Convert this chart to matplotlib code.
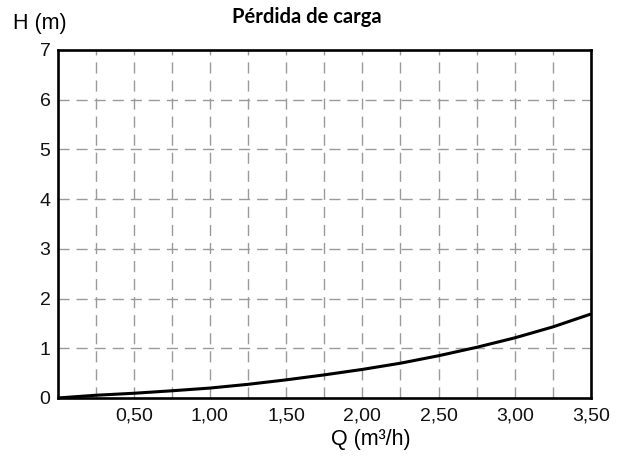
import matplotlib
matplotlib.use("Agg")
import matplotlib.pyplot as plt
import numpy as np

# Data
Q = [0, 0.25, 0.5, 0.75, 1.0, 1.25, 1.5, 1.75, 2.0, 2.25, 2.5, 2.75, 3.0, 3.25, 3.5]
H = [0, 0.055, 0.095, 0.145, 0.20, 0.275, 0.365, 0.465, 0.575, 0.70, 0.85, 1.02, 1.21, 1.43, 1.69]
x_ticks = [0.5, 1.0, 1.5, 2.0, 2.5, 3.0, 3.5]
x_tick_labels = ["0,50", "1,00", "1,50", "2,00", "2,50", "3,00", "3,50"]
y_ticks = [0, 1, 2, 3, 4, 5, 6, 7]
x_grid = [0.25 * i for i in range(1, 14)]
y_grid = [1, 2, 3, 4, 5, 6]

plt.rcParams['font.family'] = ['Liberation Sans', 'DejaVu Sans']

fig = plt.figure(figsize=(6.26, 4.63), dpi=100)
ax = fig.add_axes([57.5 / 626, 1 - 398 / 463, (591 - 57.5) / 626, (398 - 50) / 463])

grid_kw = dict(color='#9a9a9a', lw=1.0, dashes=(8, 5), zorder=1)
for gx in x_grid:
    ax.axvline(gx, **grid_kw)
for gy in y_grid:
    ax.axhline(gy, **grid_kw)

ax.plot(Q, H, color='black', lw=2.2, zorder=3, solid_capstyle='butt',
        solid_joinstyle='round')

ax.set_xlim(0, 3.5)
ax.set_ylim(0, 7)
ax.set_xticks(x_ticks)
ax.set_xticklabels(x_tick_labels)
ax.set_yticks(y_ticks)
ax.tick_params(axis='both', length=0, labelsize=14, colors='#111111')
ax.tick_params(axis='x', pad=7)
ax.tick_params(axis='y', pad=5)
for s in ax.spines.values():
    s.set_linewidth(1.9)
    s.set_color('black')
    s.set_zorder(4)

fig.text(307 / 626, 1 - 17 / 463, "Pérdida de carga", ha='center', va='center',
         fontsize=14.5, fontweight='bold', family=['Lato', 'DejaVu Sans'])
fig.text(13 / 626, 1 - 23 / 463, "H (m)", ha='left', va='center', fontsize=15.5)
fig.text(371 / 626, 1 - 440 / 463, "Q (m³/h)", ha='center', va='center', fontsize=15.5)

fig.savefig("out.png", dpi=100)
